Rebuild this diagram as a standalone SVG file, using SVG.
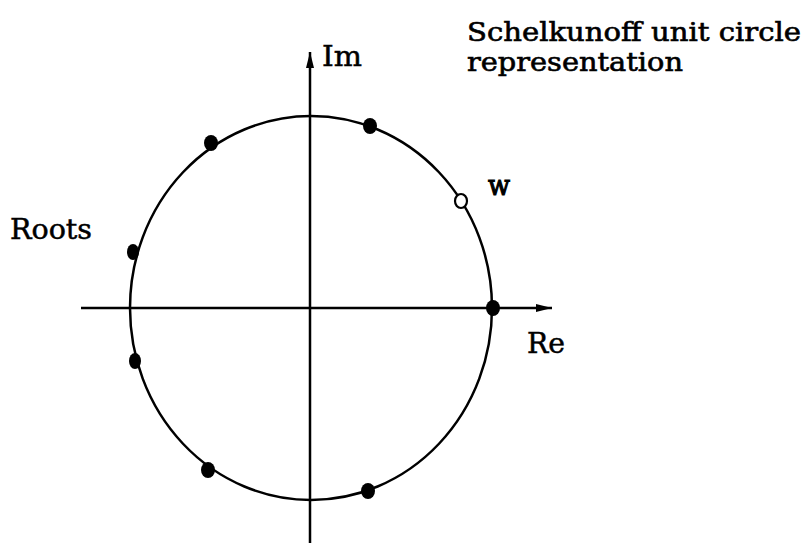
<svg xmlns="http://www.w3.org/2000/svg" width="809" height="543" viewBox="0 0 809 543">
<style>
.t{font-family:"DejaVu Serif","Liberation Serif",serif;font-size:28px;fill:#000;stroke:#000;stroke-width:0.5}
.tt{font-size:25.5px;stroke-width:0.6}
.ax{stroke:#000;stroke-width:2.5;fill:none}
.dot{fill:#000}
</style>
<defs>
<marker id="ah" viewBox="0 0 16 8" refX="16" refY="4" markerWidth="16" markerHeight="8" markerUnits="userSpaceOnUse" orient="auto">
<path d="M0,0 L16,4 L0,8 Z" fill="#000"/>
</marker>
</defs>
<rect width="809" height="543" fill="#fff"/>
<g id="connectors">
<line class="ax" x1="310" y1="543" x2="310" y2="52" marker-end="url(#ah)"/>
<line class="ax" x1="81" y1="308" x2="552" y2="308" marker-end="url(#ah)"/>
<ellipse id="unit-circle" class="ax" cx="311" cy="308" rx="181" ry="192"/>
</g>
<g id="root1"><ellipse class="dot" cx="370" cy="126" rx="7" ry="8"/></g>
<g id="root2"><ellipse class="dot" cx="211" cy="143" rx="7" ry="8"/></g>
<g id="root3"><ellipse class="dot" cx="133" cy="252" rx="6" ry="8"/></g>
<g id="root4"><ellipse class="dot" cx="493" cy="308" rx="7" ry="8"/></g>
<g id="root5"><ellipse class="dot" cx="135" cy="361" rx="6" ry="8"/></g>
<g id="root6"><ellipse class="dot" cx="208" cy="470" rx="7" ry="8"/></g>
<g id="root7"><ellipse class="dot" cx="368" cy="491" rx="7" ry="8"/></g>
<g id="w-point"><ellipse cx="461" cy="201" rx="6" ry="7" fill="#fff" stroke="#000" stroke-width="2.2"/></g>
<g id="labels">
<text class="t" x="322" y="66" textLength="40" lengthAdjust="spacingAndGlyphs">Im</text>
<text class="t tt" x="467" y="41" textLength="334" lengthAdjust="spacingAndGlyphs">Schelkunoff unit circle</text>
<text class="t tt" x="467" y="71" textLength="216" lengthAdjust="spacingAndGlyphs">representation</text>
<text class="t" x="10" y="239" textLength="82" lengthAdjust="spacingAndGlyphs">Roots</text>
<text class="t" x="488" y="195" textLength="22" lengthAdjust="spacingAndGlyphs" style="stroke-width:1.2">w</text>
<text class="t" x="527" y="353" textLength="38" lengthAdjust="spacingAndGlyphs">Re</text>
</g>
</svg>
